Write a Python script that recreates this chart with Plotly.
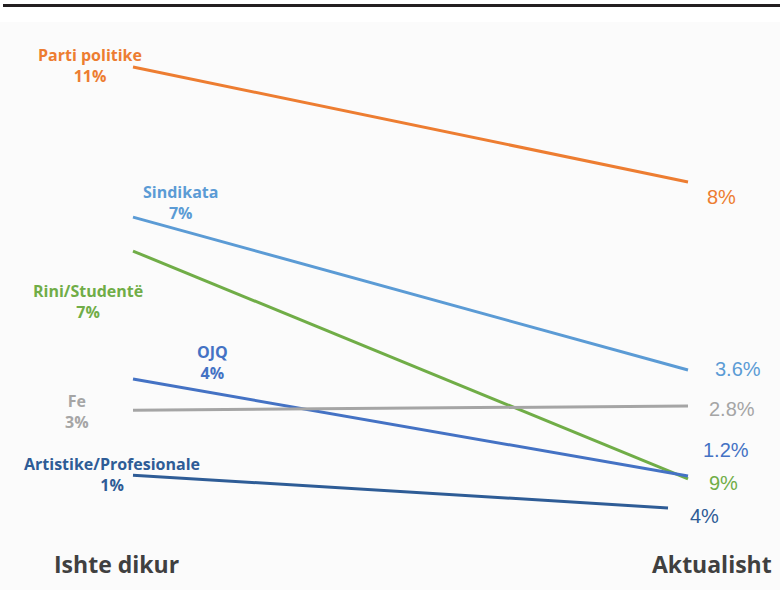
import plotly.graph_objects as go

# ---- data ----
periods = ["Ishte dikur", "Aktualisht"]
series_names = ["Parti politike", "Sindikata", "Rini/Studentë", "OJQ", "Fe", "Artistike/Profesionale"]
left_labels = ["11%", "7%", "7%", "4%", "3%", "1%"]
right_labels = ["8%", "3.6%", "9%", "1.2%", "2.8%", "4%"]
values_before = [11.0, 7.33, 6.50, 3.37, 2.61, 1.02]
values_now = [8.19, 3.59, 0.93, 1.00, 2.71, 0.22]
end_pos = [1.0, 1.0, 1.0, 1.0, 1.0, 0.964]

# ---- styles ----
colors = ["#ED7D31", "#5B9BD5", "#70AD47", "#4472C4", "#A5A5A5", "#2E5C96"]
left_off = [(-43, 2), (47, 15), (-45, -50), (79, 17), (-56, -1), (-21, 1)]
right_off = [(17, -15), (25, 1), (19, -4), (13, 26), (19, -3), (20, -8)]

W, H = 780, 599
fig = go.Figure()

annotations = []
for i, name in enumerate(series_names):
    fig.add_trace(go.Scatter(
        x=[0, end_pos[i]], y=[values_before[i], values_now[i]],
        mode="lines", line=dict(color=colors[i], width=3),
        name=name, showlegend=False, hoverinfo="skip"))
    dx, dy = left_off[i]
    annotations.append(dict(
        x=0, y=values_before[i], xref="x", yref="y",
        text=f"<b>{name}</b><br><b>{left_labels[i]}</b>",
        showarrow=False, xanchor="center", yanchor="middle",
        xshift=dx, yshift=dy, align="center",
        font=dict(family="Open Sans", size=16, color=colors[i])))
    rx, ry = right_off[i]
    annotations.append(dict(
        x=end_pos[i], y=values_now[i], xref="x", yref="y",
        text=right_labels[i], showarrow=False,
        xanchor="left", yanchor="middle", xshift=rx, yshift=ry,
        font=dict(family="Liberation Sans", size=20, color=colors[i])))

# period labels
annotations.append(dict(x=0, y=0, xref="x", yref="paper", text=f"<b>{periods[0]}</b>",
                        showarrow=False, xanchor="center", yanchor="middle",
                        xshift=-17, yshift=599 - 564,
                        font=dict(family="Open Sans", size=23, color="#404040")))
annotations.append(dict(x=1, y=0, xref="x", yref="paper", text=f"<b>{periods[1]}</b>",
                        showarrow=False, xanchor="center", yanchor="middle",
                        xshift=24, yshift=599 - 564,
                        font=dict(family="Open Sans", size=23, color="#404040")))

shapes = [
    dict(type="rect", xref="paper", yref="paper", x0=0, x1=1,
         y0=1 - 590 / H, y1=1 - 22 / H, fillcolor="#FBFBFB", line=dict(width=0), layer="below"),
    dict(type="line", xref="paper", yref="paper", x0=3 / W, x1=1,
         y0=1 - 5.5 / H, y1=1 - 5.5 / H, line=dict(color="#231F20", width=3)),
]

xmin = -133 / 555
xmax = xmin + W / 555
ppu = 40.9
ymax = 11 + 67 / ppu
ymin = 11 - (H - 67) / ppu

fig.update_layout(
    width=W, height=H, margin=dict(l=0, r=0, t=0, b=0),
    paper_bgcolor="white", plot_bgcolor="rgba(0,0,0,0)",
    xaxis=dict(range=[xmin, xmax], visible=False, fixedrange=True),
    yaxis=dict(range=[ymin, ymax], visible=False, fixedrange=True),
    annotations=annotations, shapes=shapes,
)

fig.write_html("out.html", config={"displayModeBar": False},
               post_script="document.body.style.margin='0';")
